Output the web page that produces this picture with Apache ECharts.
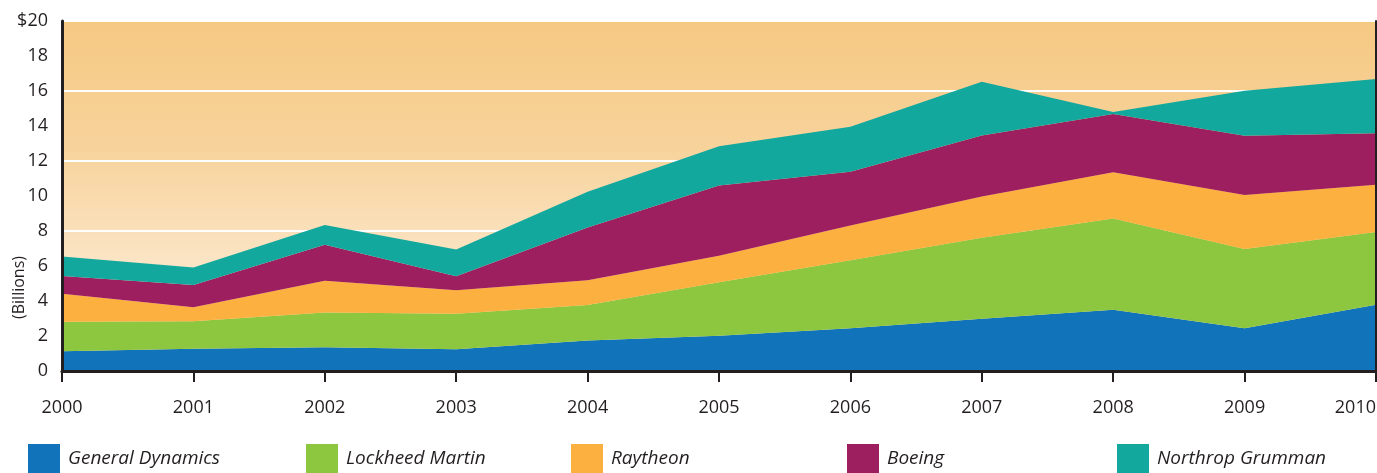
<!DOCTYPE html>
<html>
<head>
<meta charset="utf-8">
<script src="https://cdn.jsdelivr.net/npm/echarts@6/dist/echarts.min.js"></script>
<style>
  html, body { margin: 0; padding: 0; background: #fff; }
  #chart { width: 1377px; height: 473px; }
</style>
</head>
<body>
<div id="chart"></div>
<script>
// years on the x axis
var years = ['2000', '2001', '2002', '2003', '2004', '2005', '2006', '2007', '2008', '2009', '2010'];

// contract values in $ billions
var generalDynamics = [1.13, 1.27, 1.36, 1.25, 1.75, 2.01, 2.45, 2.99, 3.50, 2.45, 3.79];
var lockheedMartin  = [1.69, 1.58, 1.99, 2.02, 2.02, 3.06, 3.88, 4.63, 5.21, 4.52, 4.16];
var raytheon        = [1.60, 0.80, 1.81, 1.34, 1.41, 1.52, 1.98, 2.35, 2.65, 3.09, 2.69];
var boeing          = [1.01, 1.26, 2.06, 0.80, 3.02, 4.01, 3.07, 3.49, 3.32, 3.38, 2.94];
var northropGrumman = [1.11, 1.00, 1.13, 1.53, 2.04, 2.25, 2.58, 3.07, 0.12, 2.58, 3.11];

var names = ['General Dynamics', 'Lockheed Martin', 'Raytheon', 'Boeing', 'Northrop Grumman'];
var colors = ['#1174bb', '#8dc63f', '#fbb040', '#9e1f5f', '#13a89e'];
var values = [generalDynamics, lockheedMartin, raytheon, boeing, northropGrumman];
var legendLeft = [28, 306, 571, 847, 1117];

var textColor = '#231f20';
var font = '"Open Sans", "Noto Sans", sans-serif';

var chart = echarts.init(document.getElementById('chart'));

var series = names.map(function (n, i) {
  return {
    name: n,
    type: 'line',
    stack: 'total',
    data: values[i],
    showSymbol: false,
    symbol: 'none',
    lineStyle: { width: 0 },
    areaStyle: { color: colors[i], opacity: 1 },
    itemStyle: { color: colors[i] },
    silent: true
  };
});

// one legend per item so each can sit where the original puts it
var legends = names.map(function (n, i) {
  return {
    data: [n],
    left: legendLeft[i],
    top: 444,
    padding: 0,
    itemWidth: 32,
    itemHeight: 30,
    icon: 'rect',
    textStyle: { color: textColor, fontSize: 19, fontStyle: 'italic', fontFamily: font, padding: [6, 0, 0, 3] },
    selectedMode: false
  };
});

var option = {
  animation: false,
  color: colors,
  grid: {
    left: 62, right: 1, top: 21, bottom: 102,
    outerBoundsMode: 'none',
    containLabel: false,
    show: true,
    borderWidth: 0,
    backgroundColor: {
      type: 'linear', x: 0, y: 0, x2: 0, y2: 1,
      colorStops: [
        { offset: 0, color: '#f6c983' },
        { offset: 0.35, color: '#f7d29a' },
        { offset: 0.7, color: '#fbe5c6' },
        { offset: 1, color: '#fdf1df' }
      ]
    }
  },
  legend: legends,
  xAxis: [{
    type: 'category',
    data: years,
    boundaryGap: false,
    z: 10,
    axisLine: { lineStyle: { color: textColor, width: 3 } },
    axisTick: { length: 11, lineStyle: { color: textColor, width: 2 } },
    axisLabel: {
      color: textColor, fontSize: 18, fontFamily: font, margin: 28,
      alignMaxLabel: 'right', padding: [0, 0, 0, 0],
      formatter: function (v) { return v; }
    },
    splitLine: { show: false }
  }, {
    type: 'category',
    data: years,
    boundaryGap: false,
    position: 'top',
    axisLine: { lineStyle: { color: '#f4b35a', width: 3 } },
    axisTick: { show: false },
    axisLabel: { show: false },
    splitLine: { show: false }
  }],
  yAxis: [{
    type: 'value',
    min: 0, max: 20, interval: 4,
    axisLine: { show: false },
    axisTick: { show: false },
    axisLabel: { show: false },
    splitLine: { show: true, lineStyle: { color: '#ffffff', width: 2 } }
  }, {
    type: 'value',
    position: 'left',
    min: 0, max: 20, interval: 2,
    z: 10,
    axisLine: { show: true, lineStyle: { color: textColor, width: 3 } },
    axisTick: { show: false },
    splitLine: { show: false },
    axisLabel: {
      color: textColor, fontSize: 18, fontFamily: font, margin: 14,
      formatter: function (v) { return v === 20 ? '$20' : String(v); }
    }
  }, {
    type: 'value',
    position: 'right',
    min: 0, max: 20, interval: 2,
    z: 10,
    axisLine: { show: true, lineStyle: { color: textColor, width: 2 } },
    axisTick: { show: false },
    axisLabel: { show: false },
    splitLine: { show: false }
  }],
  graphic: [{
    type: 'text',
    left: 11,
    top: 256,
    rotation: Math.PI / 2,
    style: { text: '(Billions)', fill: textColor, font: '16px ' + font }
  }],
  series: series
};

chart.setOption(option);
</script>
</body>
</html>
